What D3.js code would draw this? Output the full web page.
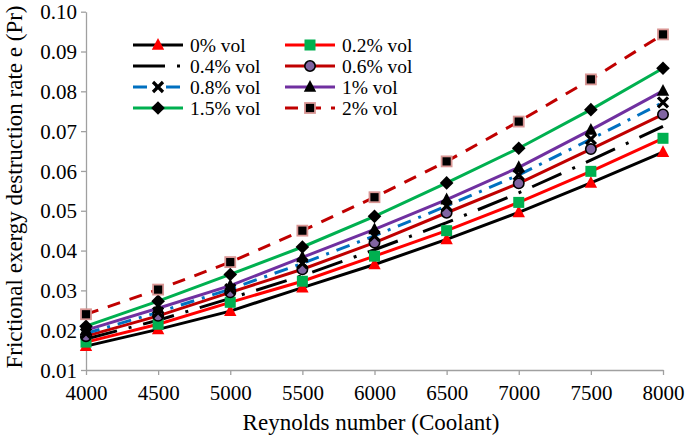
<!DOCTYPE html>
<html><head><meta charset="utf-8">
<script src="https://cdn.jsdelivr.net/npm/d3@7"></script>
<style>body{margin:0;background:#fff}svg{display:block}svg text{font-family:"Liberation Serif","Times New Roman",serif !important;fill:#000}</style>
</head><body><svg id="c" width="685" height="437"></svg>
<script>
const reynolds = [4000, 4500, 5000, 5500, 6000, 6500, 7000, 7500, 8000];
const xTicks = [4000, 4500, 5000, 5500, 6000, 6500, 7000, 7500, 8000];
const yTicks = [0.01, 0.02, 0.03, 0.04, 0.05, 0.06, 0.07, 0.08, 0.09, 0.10];
const seriesNames = ["0% vol", "0.2% vol", "0.4% vol", "0.6% vol", "0.8% vol", "1% vol", "1.5% vol", "2% vol"];
const vol0  = [0.0160, 0.0202, 0.0248, 0.0307, 0.0365, 0.0428, 0.0496, 0.0570, 0.0647];
const vol02 = [0.0170, 0.0215, 0.0270, 0.0323, 0.0386, 0.0450, 0.0521, 0.0599, 0.0682];
const vol04 = [0.0178, 0.0225, 0.0280, 0.0337, 0.0402, 0.0470, 0.0545, 0.0627, 0.0712];
const vol06 = [0.0185, 0.0236, 0.0295, 0.0353, 0.0420, 0.0495, 0.0569, 0.0655, 0.0742];
const vol08 = [0.0192, 0.0245, 0.0303, 0.0368, 0.0437, 0.0512, 0.0590, 0.0680, 0.0772];
const vol1  = [0.0200, 0.0255, 0.0312, 0.0383, 0.0453, 0.0528, 0.0609, 0.0703, 0.0801];
const vol15 = [0.0210, 0.0273, 0.0340, 0.0409, 0.0486, 0.0570, 0.0657, 0.0754, 0.0858];
const vol2  = [0.0240, 0.0302, 0.0371, 0.0450, 0.0534, 0.0624, 0.0724, 0.0830, 0.0943];

const styles = [
  {values: vol0,  line: "#000000", dash: null, marker: "triangle", fill: "#FF0000", stroke: "none"},
  {values: vol02, line: "#FF0000", dash: null, marker: "square", fill: "#00B050", stroke: "none"},
  {values: vol04, line: "#000000", dash: "32,12,3,12", marker: null},
  {values: vol06, line: "#C00000", dash: null, marker: "circle", fill: "#8064A2", stroke: "#000"},
  {values: vol08, line: "#0070C0", dash: "14,8,3,8", marker: "x"},
  {values: vol1,  line: "#7030A0", dash: null, marker: "triangle", fill: "#000", stroke: "none"},
  {values: vol15, line: "#00B050", dash: null, marker: "diamond", fill: "#000", stroke: "none"},
  {values: vol2,  line: "#C00000", dash: "13,10", marker: "square2", fill: "#000", stroke: "#D99694"}
];

const svg = d3.select("#c");
const m = {l: 86, r: 22, t: 11.7, b: 67};
const W = 685, H = 437;
const x = d3.scaleLinear().domain([4000, 8000]).range([m.l, W - m.r]);
const y = d3.scaleLinear().domain([0.01, 0.10]).range([H - m.b, m.t]);

// axes
const gx = svg.append("g").attr("transform", `translate(0,${H - m.b})`)
  .call(d3.axisBottom(x).tickValues(xTicks).tickFormat(d3.format("d")).tickSizeInner(5).tickSizeOuter(0));
const gy = svg.append("g").attr("transform", `translate(${m.l},0)`)
  .call(d3.axisLeft(y).tickValues(yTicks).tickFormat(d3.format(".2f")).tickSizeInner(5).tickSizeOuter(0));
[gx, gy].forEach(g => {
  g.attr("font-family", "Liberation Serif");
  g.select(".domain").attr("stroke", "#a0a0a0").attr("stroke-width", 1.3);
  g.selectAll(".tick line").attr("stroke", "#a0a0a0").attr("stroke-width", 1.3);
  g.selectAll(".tick text").style("font-family", "'Liberation Serif'").attr("font-size", 21).attr("fill", "#000");
});
gx.selectAll(".tick text").attr("dy", null).attr("y", 29.5);
gy.selectAll(".tick text").attr("dy", "0.34em").attr("x", -9);

// titles
svg.append("text").attr("x", 371).attr("y", 430).attr("text-anchor", "middle")
  .style("font-family", "'Liberation Serif'").attr("font-size", 23).text("Reynolds number (Coolant)");
svg.append("text").attr("transform", "translate(22,187) rotate(-90)").attr("text-anchor", "middle")
  .style("font-family", "'Liberation Serif'").attr("font-size", 23).text("Frictional exergy destruction rate  e (Pr)");

const line = d3.line().x((d, i) => x(reynolds[i])).y(d => y(d));

function drawMarker(g, type, cx, cy, s) {
  if (type === "triangle") {
    g.append("path").attr("d", `M${cx},${cy-7}L${cx+6.2},${cy+4.8}L${cx-6.2},${cy+4.8}Z`)
      .attr("fill", s.fill);
  } else if (type === "square") {
    g.append("rect").attr("x", cx-5.5).attr("y", cy-5.5).attr("width", 11).attr("height", 11).attr("fill", s.fill);
  } else if (type === "square2") {
    g.append("rect").attr("x", cx-5).attr("y", cy-5).attr("width", 10).attr("height", 10)
      .attr("fill", s.fill).attr("stroke", s.stroke).attr("stroke-width", 1.8);
  } else if (type === "circle") {
    g.append("circle").attr("cx", cx).attr("cy", cy).attr("r", 5.2).attr("fill", s.fill)
      .attr("stroke", s.stroke).attr("stroke-width", 1.6);
  } else if (type === "diamond") {
    g.append("path").attr("d", `M${cx},${cy-6.8}L${cx+6.8},${cy}L${cx},${cy+6.8}L${cx-6.8},${cy}Z`).attr("fill", s.fill);
  } else if (type === "x") {
    g.append("path").attr("d", `M${cx-5},${cy-5}L${cx+5},${cy+5}M${cx+5},${cy-5}L${cx-5},${cy+5}`)
      .attr("stroke", "#000").attr("stroke-width", 3.2);
  }
}

const plot = svg.append("g");
styles.forEach(s => {
  plot.append("path").datum(s.values).attr("d", line).attr("fill", "none")
    .attr("stroke", s.line).attr("stroke-width", 3).attr("stroke-dasharray", s.dash);
});
styles.forEach(s => {
  if (!s.marker) return;
  s.values.forEach((v, i) => drawMarker(plot, s.marker, x(reynolds[i]), y(v), s));
});

// legend
const leg = svg.append("g");
const rows = [45, 66, 87, 108];
styles.forEach((s, i) => {
  const col = i % 2, row = Math.floor(i / 2);
  const x0 = col === 0 ? 133 : 285, yy = rows[row];
  leg.append("line").attr("x1", x0).attr("x2", x0 + 50).attr("y1", yy).attr("y2", yy)
    .attr("stroke", s.line).attr("stroke-width", 3).attr("stroke-dasharray", s.dash);
  if (s.marker) drawMarker(leg, s.marker, x0 + 25, yy, s);
  leg.append("text").attr("x", x0 + 57).attr("y", yy + 7).style("font-family", "'Liberation Serif'")
    .attr("font-size", 19.5).text(seriesNames[i]);
});
</script></body></html>
